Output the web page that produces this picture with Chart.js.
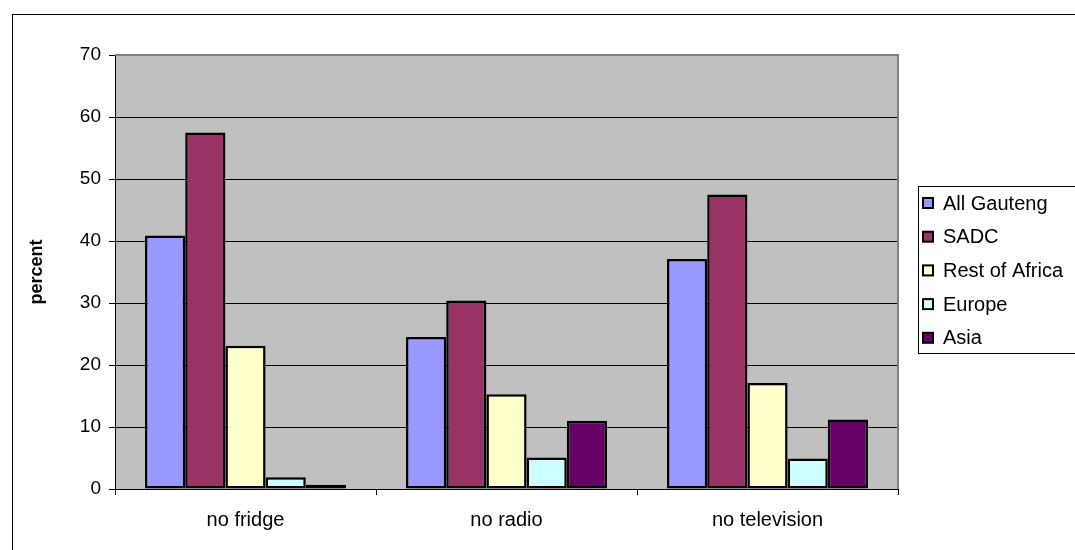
<!DOCTYPE html>
<html>
<head>
<meta charset="utf-8">
<script src="https://cdn.jsdelivr.net/npm/chart.js@4/dist/chart.umd.min.js"></script>
<style>
  html, body { margin: 0; padding: 0; background: #ffffff; }
  #wrap { width: 1075px; height: 550px; }
</style>
</head>
<body>
<div id="wrap"><canvas id="c" width="1075" height="550"></canvas></div>
<script>
// Households lacking each appliance, by origin group (percent)
const categories = ['no fridge', 'no radio', 'no television'];
const seriesNames = ['All Gauteng', 'SADC', 'Rest of Africa', 'Europe', 'Asia'];
const allGauteng   = [40.9, 24.5, 37.1];
const sadc         = [57.5, 30.4, 47.5];
const restOfAfrica = [23.1, 15.3, 17.1];
const europe       = [1.9, 5.1, 4.9];
const asia         = [0.7, 11.0, 11.2];
const yTicks       = [0, 10, 20, 30, 40, 50, 60, 70];

const seriesValues = [allGauteng, sadc, restOfAfrica, europe, asia];
const seriesColors = ['#9999FF', '#993366', '#FFFFCC', '#CCFFFF', '#660066'];

const FONT = "'Liberation Sans', Arial, sans-serif";

// grey plot background plus outer frame and grey top/right plot border
const frame = {
  id: 'frame',
  beforeDraw(chart) {
    const { ctx, chartArea: a } = chart;
    ctx.save();
    ctx.fillStyle = '#ffffff';
    ctx.fillRect(0, 0, chart.width, chart.height);
    ctx.fillStyle = '#C0C0C0';
    ctx.fillRect(a.left, a.top, a.right - a.left, a.bottom - a.top);
    ctx.restore();
  },
  beforeDatasetsDraw(chart) {
    const { ctx, chartArea: a } = chart;
    ctx.save();
    ctx.strokeStyle = '#808080';
    ctx.lineWidth = 2;
    ctx.beginPath();
    ctx.moveTo(a.left, a.top);
    ctx.lineTo(a.right, a.top);
    ctx.lineTo(a.right, a.bottom);
    ctx.stroke();
    ctx.restore();
  },
  afterDraw(chart) {
    const ctx = chart.ctx;
    ctx.save();
    ctx.strokeStyle = '#000000';
    ctx.lineWidth = 1;
    ctx.strokeRect(12.5, 14.5, 1200, 700);
    ctx.restore();
  }
};

// boxed legend on the right, built from the datasets
const boxLegend = {
  id: 'boxLegend',
  afterDraw(chart) {
    const { ctx } = chart;
    const x0 = 918, y0 = 186, y1 = 353;
    ctx.save();
    ctx.fillStyle = '#ffffff';
    ctx.fillRect(x0, y0, 400, y1 - y0);
    ctx.strokeStyle = '#000000';
    ctx.lineWidth = 1;
    ctx.strokeRect(x0 + 0.5, y0 + 0.5, 400, y1 - y0);
    ctx.font = '20px ' + FONT;
    ctx.textBaseline = 'middle';
    ctx.textAlign = 'left';
    chart.data.datasets.forEach((ds, i) => {
      const cy = 203 + i * 33.7;
      ctx.fillStyle = ds.backgroundColor;
      ctx.fillRect(923, cy - 5, 10, 10);
      ctx.strokeStyle = '#000000';
      ctx.lineWidth = 2;
      ctx.strokeRect(923, cy - 5, 10, 10);
      ctx.fillStyle = '#000000';
      ctx.fillText(ds.label, 943, cy + 1);
    });
    ctx.restore();
  }
};

new Chart(document.getElementById('c'), {
  type: 'bar',
  data: {
    labels: categories,
    datasets: seriesNames.map((name, i) => ({
      label: name,
      data: seriesValues[i],
      backgroundColor: seriesColors[i],
      borderColor: '#000000',
      borderWidth: 2.5,
      borderSkipped: false,
      categoryPercentage: 0.77,
      barPercentage: 1.0
    }))
  },
  options: {
    responsive: false,
    devicePixelRatio: 1,
    animation: false,
    layout: { padding: { left: 0, top: 55, right: 177, bottom: 0 } },
    plugins: {
      legend: { display: false },
      tooltip: { enabled: false }
    },
    scales: {
      x: {
        grid: {
          offset: true,
          drawOnChartArea: false,
          drawTicks: true,
          tickLength: 6,
          color: '#000000'
        },
        border: { color: '#000000', width: 1 },
        ticks: {
          color: '#000000',
          font: { family: FONT, size: 20 },
          padding: 13,
          maxRotation: 0
        },
        afterFit(scale) { scale.height = 61; }
      },
      y: {
        min: 0,
        max: 70,
        afterBuildTicks(scale) { scale.ticks = yTicks.map(v => ({ value: v })); },
        grid: {
          color: '#000000',
          lineWidth: 1,
          tickLength: 6
        },
        border: { color: '#000000', width: 1 },
        ticks: {
          color: '#000000',
          font: { family: FONT, size: 19 },
          padding: 8
        },
        title: {
          display: true,
          text: 'percent',
          color: '#000000',
          font: { family: FONT, size: 18, weight: 'bold' },
          padding: { top: 26, bottom: 0 }
        },
        afterFit(scale) { scale.width = 115; }
      }
    }
  },
  plugins: [frame, boxLegend]
});
</script>
</body>
</html>
